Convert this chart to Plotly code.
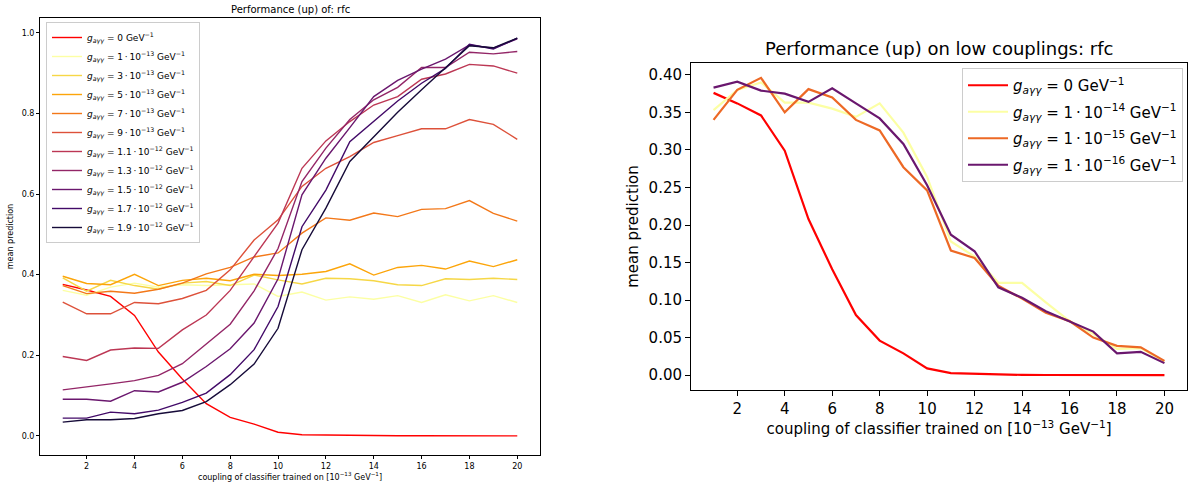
import plotly.graph_objects as go

W, H = 1198, 489
FONT = "DejaVu Sans"

x_coupling = list(range(1, 21))

# ---- left panel series (mean prediction) ----
g0 = [0.376, 0.362, 0.346, 0.299, 0.208, 0.141, 0.080, 0.046, 0.029, 0.009,
      0.0027, 0.0018, 0.0005, 0.0003, 0.0002, 0.0001, 0.0001, 0.0, 0.0, 0.0]
g1e13 = [0.361, 0.349, 0.369, 0.379, 0.369, 0.375, 0.373, 0.375, 0.377, 0.346,
         0.357, 0.337, 0.345, 0.339, 0.348, 0.331, 0.350, 0.335, 0.348, 0.331]
g3e13 = [0.392, 0.359, 0.386, 0.373, 0.364, 0.379, 0.383, 0.373, 0.399, 0.387,
         0.377, 0.391, 0.390, 0.385, 0.375, 0.373, 0.390, 0.388, 0.391, 0.388]
g5e13 = [0.396, 0.378, 0.375, 0.401, 0.373, 0.386, 0.391, 0.385, 0.401, 0.398,
         0.401, 0.408, 0.427, 0.399, 0.418, 0.423, 0.414, 0.434, 0.420, 0.437]
g7e13 = [0.373, 0.353, 0.359, 0.354, 0.364, 0.379, 0.402, 0.418, 0.444, 0.454,
         0.503, 0.541, 0.535, 0.553, 0.544, 0.562, 0.564, 0.584, 0.552, 0.533]
g9e13 = [0.332, 0.303, 0.303, 0.331, 0.328, 0.341, 0.361, 0.412, 0.486, 0.536,
         0.619, 0.664, 0.693, 0.728, 0.745, 0.762, 0.762, 0.785, 0.773, 0.736]
g11e13 = [0.197, 0.187, 0.213, 0.218, 0.217, 0.263, 0.300, 0.361, 0.445, 0.528,
          0.664, 0.732, 0.780, 0.821, 0.842, 0.885, 0.898, 0.922, 0.918, 0.900]
g13e13 = [0.114, 0.121, 0.129, 0.137, 0.150, 0.179, 0.227, 0.277, 0.360, 0.465,
          0.631, 0.714, 0.785, 0.834, 0.865, 0.914, 0.914, 0.952, 0.948, 0.954]
g15e13 = [0.091, 0.091, 0.086, 0.112, 0.109, 0.133, 0.172, 0.216, 0.280, 0.390,
          0.598, 0.689, 0.765, 0.842, 0.882, 0.910, 0.935, 0.970, 0.962, 0.985]
g17e13 = [0.044, 0.044, 0.059, 0.055, 0.064, 0.083, 0.106, 0.152, 0.214, 0.321,
          0.519, 0.610, 0.730, 0.780, 0.831, 0.875, 0.912, 0.972, 0.960, 0.987]
g19e13 = [0.034, 0.040, 0.040, 0.043, 0.055, 0.063, 0.085, 0.127, 0.178, 0.267,
          0.462, 0.565, 0.681, 0.743, 0.803, 0.859, 0.913, 0.968, 0.963, 0.987]

DOT = "\u2009·\u2009"
left_labels = ["0", "1" + DOT + "10<sup>−13</sup>", "3" + DOT + "10<sup>−13</sup>",
               "5" + DOT + "10<sup>−13</sup>", "7" + DOT + "10<sup>−13</sup>",
               "9" + DOT + "10<sup>−13</sup>", "1.1" + DOT + "10<sup>−12</sup>",
               "1.3" + DOT + "10<sup>−12</sup>", "1.5" + DOT + "10<sup>−12</sup>",
               "1.7" + DOT + "10<sup>−12</sup>", "1.9" + DOT + "10<sup>−12</sup>"]
left_series = [g0, g1e13, g3e13, g5e13, g7e13, g9e13, g11e13, g13e13, g15e13, g17e13, g19e13]
left_colors = ["#ff0000", "#fcffa4", "#f6d746", "#fca50a", "#f37819", "#dd513a",
               "#bc3754", "#932667", "#6a176e", "#420a68", "#160b39"]

# ---- right panel series ----
r_g0 = g0
r_1e14 = [0.353, 0.380, 0.390, 0.363, 0.363, 0.355, 0.344, 0.362, 0.323, 0.264,
          0.178, 0.158, 0.123, 0.123, 0.097, 0.072, 0.055, 0.035, 0.036, 0.018]
r_1e15 = [0.340, 0.380, 0.396, 0.350, 0.381, 0.370, 0.340, 0.326, 0.277, 0.246,
          0.166, 0.156, 0.119, 0.102, 0.083, 0.072, 0.050, 0.039, 0.037, 0.019]
r_1e16 = [0.383, 0.391, 0.379, 0.375, 0.364, 0.382, 0.362, 0.342, 0.308, 0.253,
          0.187, 0.165, 0.117, 0.103, 0.085, 0.072, 0.058, 0.029, 0.031, 0.016]
right_labels = ["0", "1" + DOT + "10<sup>−14</sup>", "1" + DOT + "10<sup>−15</sup>",
                "1" + DOT + "10<sup>−16</sup>"]
right_series = [r_g0, r_1e14, r_1e15, r_1e16]
right_colors = ["#ff0000", "#fcffa4", "#ed6925", "#6a176e"]

left_ticks = [2, 4, 6, 8, 10, 12, 14, 16, 18, 20]
left_yticks = [0.0, 0.2, 0.4, 0.6, 0.8, 1.0]
right_yticks = [0.0, 0.05, 0.10, 0.15, 0.20, 0.25, 0.30, 0.35, 0.40]


def lab(v):
    return "<i>g<sub>aγγ</sub></i> = " + v + " GeV<sup>−1</sup>"


fig = go.Figure()
for ys, lb, c in zip(left_series, left_labels, left_colors):
    fig.add_trace(go.Scatter(x=x_coupling, y=ys, mode="lines", name=lab(lb),
                             line=dict(color=c, width=1.4), xaxis="x", yaxis="y",
                             legend="legend"))
for i, (ys, lb, c) in enumerate(zip(right_series, right_labels, right_colors)):
    fig.add_trace(go.Scatter(x=x_coupling, y=ys, mode="lines", name=lab(lb),
                             line=dict(color=c, width=2.2), xaxis="x2", yaxis="y2",
                             legend="legend2", legendgroup="r%d" % i))

ax_common = dict(showline=True, linecolor="black", linewidth=1, mirror=True,
                 ticks="outside", tickcolor="black", showgrid=False, zeroline=False)

xtitle = "coupling of classifier trained on [10<sup>−13</sup> GeV<sup>−1</sup>]"

fig.update_layout(
    width=W, height=H, margin=dict(l=0, r=0, t=0, b=0),
    paper_bgcolor="white", plot_bgcolor="white",
    font=dict(family=FONT, color="black"),
    xaxis=dict(domain=[40 / W, 540 / W], range=[0.05, 20.95], tickvals=left_ticks,
               ticklen=3, tickfont=dict(size=8),
               title=dict(text=xtitle, font=dict(size=8), standoff=4), **ax_common),
    yaxis=dict(domain=[1 - 455 / H, 1 - 18 / H], range=[-0.0475, 1.037],
               tickvals=left_yticks, tickformat=".1f", ticklen=3, tickfont=dict(size=8),
               title=dict(text="mean prediction", font=dict(size=8), standoff=6),
               **ax_common),
    xaxis2=dict(domain=[691 / W, 1187 / W], range=[0.05, 20.95], tickvals=left_ticks,
                ticklen=5, tickfont=dict(size=15), anchor="y2",
                title=dict(text=xtitle, font=dict(size=15), standoff=6), **ax_common),
    yaxis2=dict(domain=[1 - 390 / H, 1 - 63 / H], range=[-0.0198, 0.4158],
                tickvals=right_yticks, tickformat=".2f", ticklen=5,
                tickfont=dict(size=15), anchor="x2",
                title=dict(text="mean prediction", font=dict(size=15), standoff=6),
                **ax_common),
    legend=dict(x=46 / W, y=1 - 22 / H, xanchor="left", yanchor="top",
                bgcolor="rgba(255,255,255,0.85)", bordercolor="#cccccc", borderwidth=1,
                font=dict(size=9), tracegroupgap=0, itemwidth=30),
    legend2=dict(x=1183 / W, y=1 - 68 / H, xanchor="right", yanchor="top",
                 bgcolor="rgba(255,255,255,0.85)", bordercolor="#cccccc", borderwidth=1,
                 font=dict(size=15), itemwidth=40, tracegroupgap=4),
    annotations=[
        dict(text="Performance (up) of: rfc", x=290 / W, y=1 - 9 / H, xref="paper",
             yref="paper", xanchor="center", yanchor="middle", showarrow=False,
             font=dict(size=10)),
        dict(text="Performance (up) on low couplings: rfc", x=939 / W, y=1 - 49 / H,
             xref="paper", yref="paper", xanchor="center", yanchor="middle",
             showarrow=False, font=dict(size=18)),
    ],
)

fig.write_html("out.html")
